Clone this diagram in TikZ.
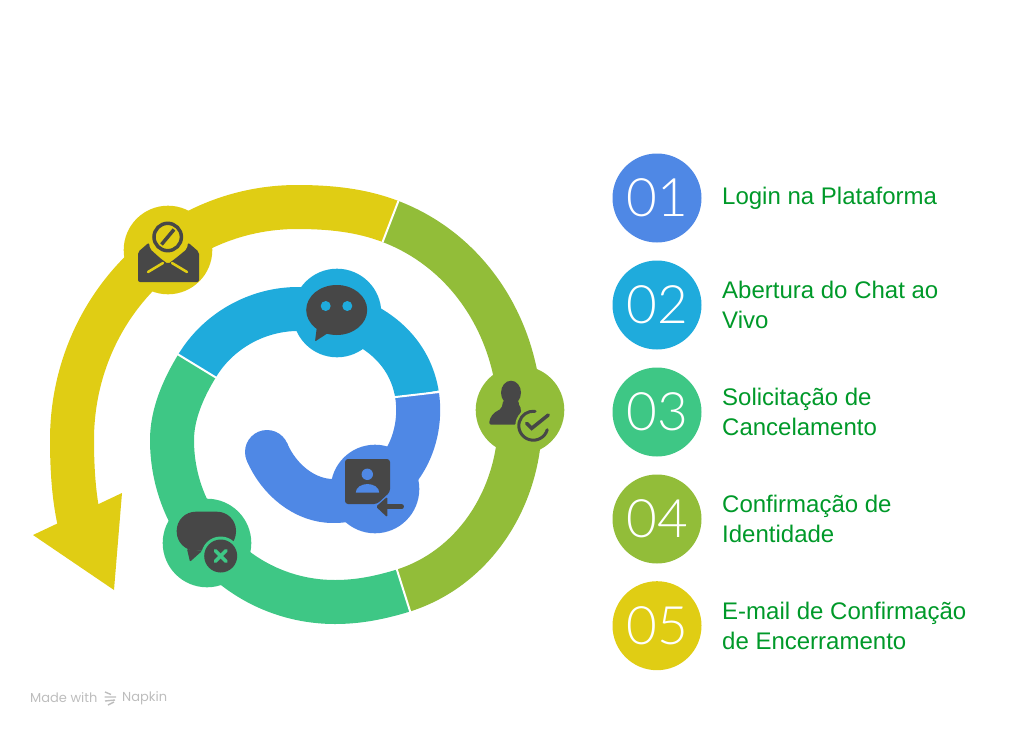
\documentclass[tikz,border=0pt]{standalone}
\usepackage{fontspec}
\setmainfont{Liberation Sans}
\newfontfamily\numfont{Lato Light}
\newfontfamily\markfont{Poppins}
\definecolor{cblue}{HTML}{4F88E5}
\definecolor{ccyan}{HTML}{1FABDC}
\definecolor{cgreen}{HTML}{3EC785}
\definecolor{colive}{HTML}{92BD39}
\definecolor{cyellow}{HTML}{E0CD14}
\definecolor{cicon}{HTML}{474747}
\definecolor{cmark}{HTML}{BDBDBD}
\tikzset{
  ring/.style={line width=44,line cap=butt,line join=round},
  cut/.style={draw=white,line width=2},
  badge/.style={circle,minimum size=88.6,inner sep=0},
  stepdot/.style={circle,minimum size=89,inner sep=0,text=white,font=\numfont\fontsize{53}{53}\selectfont},
  steptext/.style={anchor=west,inner sep=0,align=left,font=\fontsize{24}{30}\selectfont},
  icon/.style={fill=cicon,draw=none},
  iconline/.style={draw=cicon,line cap=round,line width=3.5}
}

\begin{document}
\begin{tikzpicture}[x=1pt,y=-1pt]
  \useasboundingbox (0,0) rectangle (1024,733);

  % boundaries of the spiral
  \coordinate (bc) at (417,394.5);
  \coordinate (cg) at (197,366);
  \coordinate (go) at (403.5,590.5);
  \coordinate (oy) at (390.5,221.5);

  % spiral
  \draw[ring,cblue] (267,452) .. controls (279,480) and (305,501) .. (333,501)
    .. controls (392,501) and (425,447) .. (bc);
  \fill[cblue] (267,452) circle (22);
  \draw[ring,ccyan] (bc) .. controls (408,338.5) and (354,309) .. (298,309)
    .. controls (257,309) and (218,331) .. (cg);
  \draw[ring,cgreen] (cg) .. controls (183.5,388) and (172,414) .. (172,440)
    .. controls (172,530) and (245,602) .. (335,602)
    .. controls (359,602) and (380.5,597.5) .. (go);
  \draw[ring,colive] (go) .. controls (475.5,567.5) and (520,496) .. (520,420)
    .. controls (520,333) and (471.5,252.5) .. (oy);
  \draw[ring,cyellow] (oy) .. controls (360.7,210) and (329,207) .. (297,207)
    .. controls (172,207) and (72,311) .. (72,440)
    .. controls (72,470) and (74,497) .. (79,520);
  \fill[cyellow] (33,535) -- (122,493) -- (114,590) -- cycle;

  \draw[cut] (394,397.2) -- (440,391.9);
  \draw[cut] (178,354.4) -- (216,377.6);
  \draw[cut] (396.7,569) -- (410.3,612);
  \draw[cut] (382.6,242) -- (398.4,201);

  % badges on the spiral
  \node[badge,fill=cblue] (login) at (375,489) {};
  \node[badge,fill=ccyan] (chat) at (337,313) {};
  \node[badge,fill=cgreen] (cancel) at (207,543) {};
  \node[badge,fill=colive] (identity) at (520,410) {};
  \node[badge,fill=cyellow] (email) at (168,250) {};

  % contact icon
  \fill[icon,rounded corners=3] (345,459) -- (390,459) -- (390,492) -- (377,504) -- (345,504) -- cycle;
  \fill[cblue] (367.3,474.3) circle (5.7);
  \fill[cblue] (355.8,492.5) arc[start angle=180,end angle=360,x radius=11.7,y radius=8.5] -- cycle;
  \fill[icon,rounded corners=1.5] (387.3,496.7) -- (376,506.7) -- (387.3,517.3) -- cycle;
  \draw[iconline,line width=4.5] (386,506.7) -- (401.7,506.7);

  % chat icon
  \fill[icon] (336.7,310) ellipse (30.5 and 25);
  \fill[icon,rounded corners=1] (317,326) -- (315,341.5) -- (328,333) -- cycle;
  \fill[ccyan] (325.7,306) circle (5);
  \fill[ccyan] (347.3,306) circle (5);

  % chat with a cross
  \fill[icon,rounded corners=19] (176.7,511.7) rectangle (236,550.7);
  \fill[icon,rounded corners=1] (187,549) -- (190,561.7) -- (202,551) -- cycle;
  \fill[cgreen] (220.7,556) circle (19.5);
  \fill[icon] (220.7,556) circle (16.5);
  \draw[cgreen,line width=3.5,line cap=round] (215.3,550.6) -- (226.1,561.4);
  \draw[cgreen,line width=3.5,line cap=round] (226.1,550.6) -- (215.3,561.4);

  % person with a check
  \fill[icon] (511,392.7) ellipse (10 and 12);
  \fill[icon,rounded corners=2] (503.3,400) -- (501.7,408.3) -- (493.3,413.3) -- (489.3,420) -- (489.3,424.7)
    -- (516.7,424.7) -- (521.7,409) -- (519.3,406.7) -- (518.3,400) -- cycle;
  \fill[colive] (533.3,425.7) circle (18);
  \draw[iconline,line width=3] (533.3,425.7) ++(16:14.5) arc[start angle=16,end angle=277,radius=14.5];
  \draw[iconline] (526.7,423.3) -- (531.7,428.3) -- (548.3,415);

  % envelope icon
  \fill[icon,rounded corners=2] (138,252) -- (149,242.5) -- (150,249) -- (160,258) -- (168,264) -- (176,258)
    -- (187,249) -- (188,242.5) -- (199,252) -- (199,282) -- (138,282) -- cycle;
  \draw[cyellow,line width=2.5,line cap=round] (148,272) -- (163,263);
  \draw[cyellow,line width=2.5,line cap=round] (187,272) -- (172,263);
  \draw[iconline,fill=cyellow] (167.7,237) circle (13.7);
  \draw[draw=cicon,line width=3.5] (161.5,244.5) -- (174,229.5);

  % steps
  \node[stepdot,fill=cblue] (n1) at (657,198) {01};
  \node[stepdot,fill=ccyan] (n2) at (657,305) {02};
  \node[stepdot,fill=cgreen] (n3) at (657,412) {03};
  \node[stepdot,fill=colive] (n4) at (657,519) {04};
  \node[stepdot,fill=cyellow] (n5) at (657,625.7) {05};

  \node[steptext,text=black!60!blue!40!green] (t1) at (722,198) {Login na Plataforma};
  \node[steptext,text=black!60!blue!40!green] (t2) at (722,305) {Abertura do Chat ao\\Vivo};
  \node[steptext,text=black!60!blue!40!green] (t3) at (722,412) {Solicitação de\\Cancelamento};
  \node[steptext,text=black!60!blue!40!green] (t4) at (722,519) {Confirmação de\\Identidade};
  \node[steptext,text=black!60!blue!40!green] (t5) at (722,625.7) {E-mail de Confirmação\\de Encerramento};

  % watermark
  \node[anchor=west,inner sep=0,text=cmark,font=\markfont\fontsize{13}{13}\selectfont] (made) at (30,698) {Made with};
  \draw[cmark,line width=1.4] (105,692) -- (111,694.5) (104.5,697) -- (116,697) (105,701) -- (115,700) (108,705) -- (114,702);
  \node[anchor=west,inner sep=0,text=cmark,font=\markfont\fontsize{13}{13}\selectfont] (napkin) at (122,698) {Napkin};
\end{tikzpicture}
\end{document}
